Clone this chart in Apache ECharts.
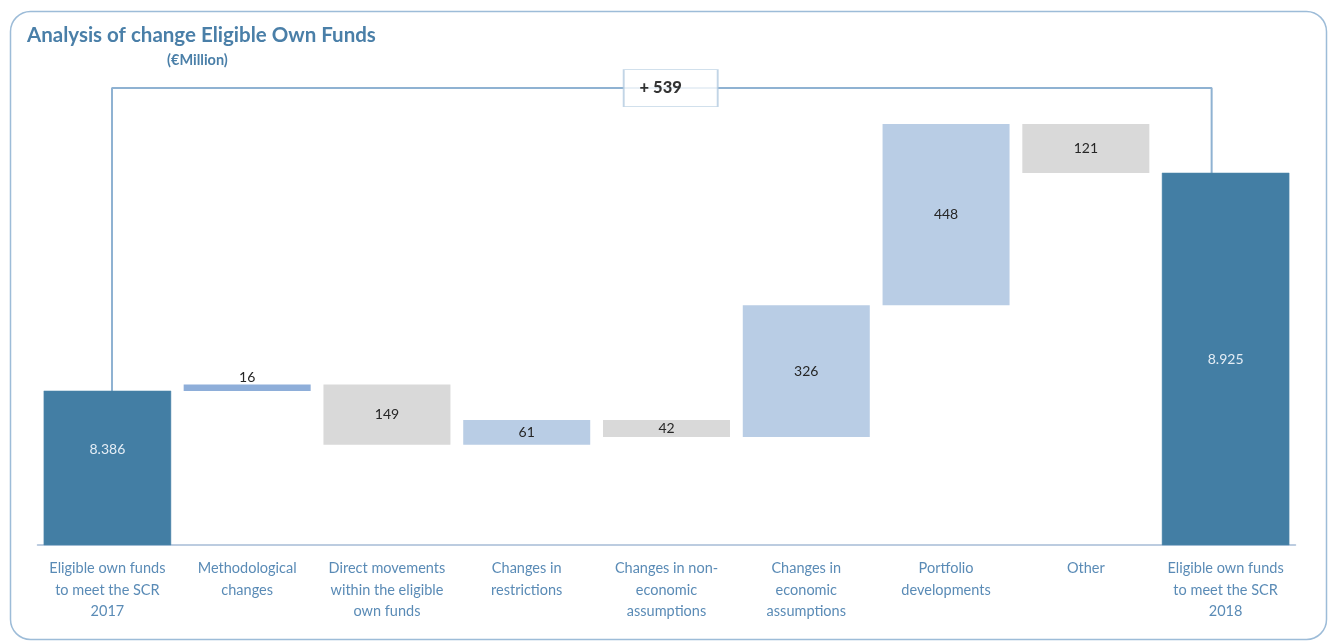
<!DOCTYPE html>
<html>
<head>
<meta charset="utf-8">
<script src="https://cdn.jsdelivr.net/npm/echarts@6/dist/echarts.min.js"></script>
<style>
html,body{margin:0;padding:0;background:#fff;}
#chart{width:1328px;height:642px;}
</style>
</head>
<body>
<div id="chart"></div>
<script>
// ---- data ----
var categories = [
  'Eligible own funds\nto meet the SCR\n2017',
  'Methodological\nchanges',
  'Direct movements\nwithin the eligible\nown funds',
  'Changes in\nrestrictions',
  'Changes in non-\neconomic\nassumptions',
  'Changes in\neconomic\nassumptions',
  'Portfolio\ndevelopments',
  'Other',
  'Eligible own funds\nto meet the SCR\n2018'
];
var changes = [8386, 16, -149, 61, -42, 326, 448, -121, 8925];
var kinds = ['total', 'method', 'down', 'up', 'down', 'up', 'up', 'down', 'total'];
var bracketLevel = 9135;

// ---- build waterfall ranges ----
var colors = {total: '#437ea4', method: '#8eaed9', up: '#b9cde5', down: '#d9d9d9'};
var rows = [];
var running = 0;
for (var i = 0; i < changes.length; i++) {
  var lo, hi;
  if (kinds[i] === 'total') { lo = 0; hi = changes[i]; running = changes[i]; }
  else { var prev = running; running = prev + changes[i]; lo = Math.min(prev, running); hi = Math.max(prev, running); }
  rows.push([i, lo, hi, changes[i]]);
}
var startVal = changes[0], endVal = changes[changes.length - 1];
var diff = endVal - startVal;

function fmtLabel(v, kind) {
  if (kind === 'total') {
    var s = String(Math.abs(v));
    return s.replace(/\B(?=(\d{3})+(?!\d))/g, '.');
  }
  return String(Math.abs(v));
}

var chart = echarts.init(document.getElementById('chart'), null, {renderer: 'canvas'});
var FONT = 'Lato, "Open Sans", sans-serif';

var option = {
  animation: false,
  backgroundColor: '#ffffff',
  title: [
    {text: 'Analysis of change Eligible Own Funds', left: 22, top: 20,
     textStyle: {fontFamily: FONT, fontWeight: 'bold', fontSize: 20.5, color: '#4a7fa8'}},
    {text: '(€Million)', left: 162, top: 48,
     textStyle: {fontFamily: FONT, fontWeight: 'bold', fontSize: 14.5, color: '#4a7fa8'}}
  ],
  graphic: [
    {type: 'rect', left: 8, top: 9, z: -10, silent: true,
     shape: {width: 1316, height: 628, r: 20},
     style: {fill: 'none', stroke: '#9dbcd8', lineWidth: 1.5}}
  ],
  grid: {left: 37.5, right: 32.5, top: 82, bottom: 97},
  xAxis: [
    {type: 'category', data: categories,
     axisLine: {lineStyle: {color: '#a6bcd6', width: 1.5}},
     axisTick: {show: false},
     axisLabel: {interval: 0, margin: 13, fontFamily: FONT, fontSize: 14.5, lineHeight: 21.5,
                 color: '#5a8bb6', align: 'center'}},
    {type: 'value', min: -0.5, max: 8.5, show: false}
  ],
  yAxis: {type: 'value', min: 8005, max: 9150, show: false, splitLine: {show: false}},
  series: [
    {
      type: 'custom',
      xAxisIndex: 0,
      data: rows,
      encode: {x: 0, y: [1, 2]},
      renderItem: function (params, api) {
        var idx = api.value(0);
        var lo = api.value(1), hi = api.value(2), v = api.value(3);
        var kind = kinds[idx];
        var top = api.coord([idx, hi]);
        var bot = api.coord([idx, lo]);
        var w = 127;
        var cs = params.coordSys;
        var rect = echarts.graphic.clipRectByRect(
          {x: top[0] - w / 2, y: top[1], width: w, height: bot[1] - top[1]},
          {x: cs.x, y: cs.y, width: cs.width, height: cs.height});
        if (!rect) return;
        var children = [{
          type: 'rect', shape: rect,
          style: {fill: colors[kind], stroke: kind === 'total' ? '#4f88ad' : 'rgba(255,255,255,0)', lineWidth: 0.5}
        }];
        var label = fmtLabel(v, kind);
        var ty, fill;
        if (kind === 'total') {
          // first total label sits higher than the middle, as in the source
          ty = idx === 0 ? rect.y + rect.height * 0.38 : rect.y + rect.height / 2;
          fill = '#e4edf5';
        }
        else if (kind === 'method') { ty = rect.y - 7; fill = '#262626'; }
        else { ty = rect.y + rect.height / 2; fill = '#262626'; }
        children.push({
          type: 'text',
          style: {text: label, x: top[0], y: ty, align: 'center', verticalAlign: 'middle',
                  fill: fill, font: '14px ' + FONT}
        });
        return {type: 'group', children: children};
      },
      z: 3
    },
    {
      type: 'line',
      xAxisIndex: 1,
      data: [[0.033, startVal], [0.033, bracketLevel], [7.9, bracketLevel], [7.9, endVal]],
      symbol: 'none',
      lineStyle: {color: '#8fb2d2', width: 2},
      z: 2,
      silent: true
    },
    {
      type: 'scatter',
      xAxisIndex: 1,
      data: [[4.03, bracketLevel]],
      symbol: 'rect',
      symbolSize: [94, 37],
      itemStyle: {color: '#ffffff', borderColor: '#b3cbe0', borderWidth: 1.2},
      label: {show: true, position: 'inside', formatter: function () { return (diff >= 0 ? '+ ' : '- ') + Math.abs(diff); },
              fontFamily: FONT, fontWeight: 900, fontSize: 16.5, color: '#000000', offset: [-10, 0]},
      z: 4,
      silent: true
    }
  ]
};
chart.setOption(option);
</script>
</body>
</html>
